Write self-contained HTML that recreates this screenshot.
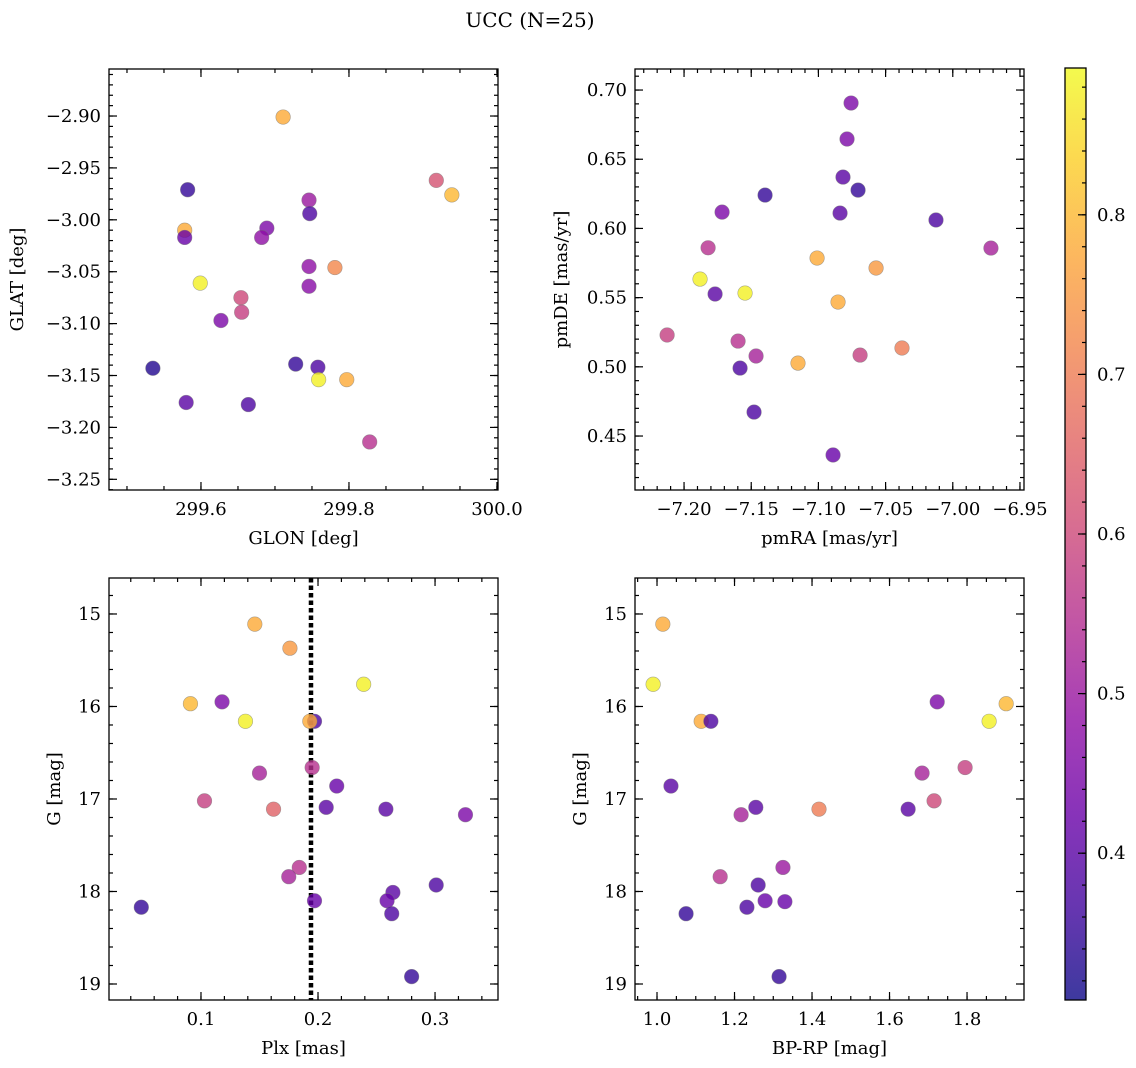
<!DOCTYPE html>
<html><head><meta charset="utf-8"><style>
body{margin:0;background:#fff;}
svg{display:block;font-family:"DejaVu Serif","Liberation Serif",serif;}
</style></head><body>
<svg id="fig" width="1136" height="1068" viewBox="0 0 1136 1068">
<text x="530" y="27" font-size="20" text-anchor="middle">UCC (N=25)</text>
</svg>
<script>
// Panel 1: GLON vs GLAT
const glon = [299.711,299.582,299.578,299.578,299.746,299.747,299.689,299.682,299.918,299.939,299.599,299.746,299.781,299.746,299.654,299.655,299.627,299.535,299.728,299.758,299.759,299.797,299.580,299.664,299.828];
const glat = [-2.901,-2.971,-3.010,-3.017,-2.981,-2.994,-3.008,-3.017,-2.962,-2.976,-3.061,-3.045,-3.046,-3.064,-3.075,-3.089,-3.097,-3.143,-3.139,-3.142,-3.154,-3.154,-3.176,-3.178,-3.214];
const c1 = [0.78,0.35,0.78,0.42,0.50,0.38,0.45,0.48,0.62,0.80,0.88,0.48,0.72,0.47,0.60,0.58,0.45,0.33,0.35,0.38,0.88,0.78,0.40,0.38,0.55];
// Panel 2: pmRA vs pmDE
const pmra = [-7.0757,-7.0787,-7.1397,-7.0817,-7.0705,-7.1717,-7.0839,-7.0125,-7.1821,-6.9716,-7.1010,-7.0571,-7.1881,-7.1546,-7.1769,-7.0854,-7.2126,-7.0378,-7.1598,-7.1464,-7.0690,-7.1152,-7.1583,-7.1479,-7.0891];
const pmde = [0.6906,0.6646,0.6241,0.6371,0.6277,0.6118,0.6111,0.6061,0.5860,0.5858,0.5786,0.5714,0.5634,0.5533,0.5526,0.5468,0.5230,0.5136,0.5186,0.5078,0.5085,0.5027,0.4991,0.4673,0.4363];
const c2 = [0.45,0.45,0.35,0.40,0.35,0.45,0.40,0.38,0.55,0.52,0.78,0.75,0.88,0.88,0.40,0.78,0.58,0.70,0.55,0.52,0.58,0.78,0.38,0.38,0.42];
// Panel 3: Plx vs G
const plx = [0.146,0.176,0.239,0.091,0.118,0.138,0.197,0.193,0.195,0.150,0.216,0.103,0.162,0.207,0.258,0.326,0.184,0.175,0.301,0.264,0.259,0.197,0.049,0.263,0.280];
const g3 = [15.11,15.37,15.76,15.97,15.95,16.16,16.16,16.16,16.66,16.72,16.86,17.02,17.11,17.09,17.11,17.17,17.74,17.84,17.93,18.01,18.10,18.10,18.17,18.24,18.92];
const c3 = [0.78,0.75,0.88,0.80,0.45,0.88,0.38,0.78,0.55,0.52,0.42,0.58,0.65,0.40,0.40,0.45,0.55,0.52,0.38,0.40,0.42,0.42,0.35,0.38,0.35];
const plxMedian = [0.194];
// Panel 4: BP-RP vs G
const bprp = [1.015,0.990,1.114,1.139,1.901,1.723,1.857,1.684,1.795,1.715,1.036,1.255,1.217,1.418,1.648,1.325,1.163,1.261,1.279,1.330,1.232,1.075,1.315];
const g4 = [15.11,15.76,16.16,16.16,15.97,15.95,16.16,16.72,16.66,17.02,16.86,17.09,17.17,17.11,17.11,17.74,17.84,17.93,18.10,18.11,18.17,18.24,18.92];
const c4 = [0.78,0.88,0.78,0.38,0.80,0.45,0.88,0.52,0.58,0.60,0.40,0.40,0.52,0.70,0.40,0.50,0.55,0.38,0.42,0.42,0.38,0.35,0.35];
// Colorbar
const cbTicks = [0.4,0.5,0.6,0.7,0.8];
const cMin = 0.308, cMax = 0.892;

const NS = "http://www.w3.org/2000/svg";
const svg = document.getElementById('fig');
function mk(tag, attrs, parent){const e=document.createElementNS(NS,tag);for(const k in attrs)e.setAttribute(k,attrs[k]);(parent||svg).appendChild(e);return e;}
const stops=[[0,"#0d0887"],[0.1,"#41049d"],[0.2,"#6a00a8"],[0.3,"#8f0da4"],[0.4,"#b12a90"],[0.5,"#cc4778"],[0.6,"#e16462"],[0.7,"#f2844b"],[0.8,"#fca636"],[0.9,"#fcce25"],[1,"#f0f921"]];
function hx(h){return [1,3,5].map(i=>parseInt(h.substr(i,2),16));}
function plasma(t){t=Math.max(0,Math.min(1,t));for(let i=0;i<stops.length-1;i++){if(t<=stops[i+1][0]){const f=(t-stops[i][0])/(stops[i+1][0]-stops[i][0]);const a=hx(stops[i][1]),b=hx(stops[i+1][1]);return "rgb("+a.map((v,j)=>Math.round(v+(b[j]-v)*f)).join(",")+")";}}return stops[10][1];}
function cnorm(c){return (c-cMin)/(cMax-cMin);}
function fmt(v,d){return (v<0?"\u2212":"")+Math.abs(v).toFixed(d);}

function panel(o){
  const {x0,x1,y0,y1,xmin,xmax,ymin,ymax,inv}=o;
  const sx=v=>x0+(v-xmin)/(xmax-xmin)*(x1-x0);
  const sy=inv? (v=>y0+(v-ymin)/(ymax-ymin)*(y1-y0)) : (v=>y1-(v-ymin)/(ymax-ymin)*(y1-y0));
  const g=mk('g',{});
  
  
  const eps=1e-9;
  function ticksX(step,len,major){
    for(let v=Math.ceil(xmin/step-eps)*step; v<=xmax+eps; v+=step){
      const X=sx(v);
      mk('line',{x1:X,x2:X,y1:y1,y2:y1-len,stroke:'#000','stroke-width':1.2},g);
      mk('line',{x1:X,x2:X,y1:y0,y2:y0+len,stroke:'#000','stroke-width':1.2},g);
      if(major){const t=mk('text',{x:X,y:y1+25,'font-size':18,'text-anchor':'middle'},g);t.textContent=fmt(v,o.xd);
        
        }
    }
  }
  function ticksY(step,len,major){
    for(let v=Math.ceil(ymin/step-eps)*step; v<=ymax+eps; v+=step){
      const Y=sy(v);
      mk('line',{x1:x0,x2:x0+len,y1:Y,y2:Y,stroke:'#000','stroke-width':1.2},g);
      mk('line',{x1:x1,x2:x1-len,y1:Y,y2:Y,stroke:'#000','stroke-width':1.2},g);
      if(major){const t=mk('text',{x:x0-8,y:Y+6,'font-size':18,'text-anchor':'end'},g);t.textContent=fmt(v,o.yd);
        
        }
    }
  }
  ticksX(o.xminor,4,false);ticksX(o.xmajor,8,true);
  ticksY(o.yminor,4,false);ticksY(o.ymajor,8,true);
  if(o.vline){
    const l=mk('line',{x1:sx(o.vline[0]),x2:sx(o.vline[0]),y1:y0,y2:y1,stroke:'#000','stroke-width':4.5,'stroke-dasharray':'4.5 3'},g);
    
    
  }
  o.xs.forEach((xv,i)=>{
    const p=mk('circle',{cx:sx(xv),cy:sy(o.ys[i]),r:7.3,fill:plasma(cnorm(o.cs[i])),'fill-opacity':0.8,stroke:'#777','stroke-opacity':0.6,'stroke-width':0.6},g);
    
    
  });
  const fr=mk('rect',{x:x0,y:y0,width:x1-x0,height:y1-y0,fill:'none',stroke:'#000','stroke-width':1.3},g);
  
  
  const xl=mk('text',{x:(x0+x1)/2,y:y1+54,'font-size':18,'text-anchor':'middle'},g);xl.textContent=o.xlabel;
  
  
  const yx=o.ylx, yc=(y0+y1)/2;
  const yl=mk('text',{x:yx,y:yc,'font-size':18,'text-anchor':'middle',transform:`rotate(-90 ${yx} ${yc})`},g);yl.textContent=o.ylabel;
  
  
}

panel({name:'glon-glat-panel',x0:109,x1:498,y0:69,y1:490,xmin:299.4757,xmax:300.0014,ymin:-3.2603,ymax:-2.8547,xmajor:0.2,xminor:0.05,ymajor:0.05,yminor:0.01,xd:1,yd:2,xs:glon,ys:glat,cs:c1,xlabel:'GLON [deg]',ylabel:'GLAT [deg]',ylx:23});
panel({name:'pm-panel',x0:635,x1:1024,y0:69,y1:490,xmin:-7.2365,xmax:-6.947,ymin:0.4110,ymax:0.7152,xmajor:0.05,xminor:0.01,ymajor:0.05,yminor:0.01,xd:2,yd:2,xs:pmra,ys:pmde,cs:c2,xlabel:'pmRA [mas/yr]',ylabel:'pmDE [mas/yr]',ylx:567});
panel({name:'plx-g-panel',x0:109,x1:498,y0:578,y1:1000,xmin:0.0214,xmax:0.3538,ymin:14.611,ymax:19.173,inv:true,xmajor:0.1,xminor:0.02,ymajor:1,yminor:0.2,xd:1,yd:0,xs:plx,ys:g3,cs:c3,xlabel:'Plx [mas]',ylabel:'G [mag]',ylx:60,vline:plxMedian});
panel({name:'cmd-panel',x0:635,x1:1024,y0:578,y1:1000,xmin:0.9432,xmax:1.947,ymin:14.611,ymax:19.173,inv:true,xmajor:0.2,xminor:0.05,ymajor:1,yminor:0.2,xd:1,yd:0,xs:bprp,ys:g4,cs:c4,xlabel:'BP-RP [mag]',ylabel:'G [mag]',ylx:586});

// colorbar
const defs=mk('defs',{});
const lg=mk('linearGradient',{id:'cbg',x1:0,y1:1,x2:0,y2:0},defs);
for(let i=0;i<=20;i++){const c=cMin+(cMax-cMin)*i/20;mk('stop',{offset:(i/20),'stop-color':plasma(cnorm(c)),'stop-opacity':0.8},lg);}
const cb=mk('g',{});


const cx0=1065,cx1=1086,cy0=68,cy1=1000;
const cy=v=>cy1-(v-cMin)/(cMax-cMin)*(cy1-cy0);
mk('rect',{x:cx0,y:cy0,width:cx1-cx0,height:cy1-cy0,fill:'url(#cbg)'},cb);
for(let v=0.32;v<=cMax;v+=0.02){mk('line',{x1:cx1,x2:cx1-4,y1:cy(v),y2:cy(v),stroke:'#000','stroke-width':1.2},cb);}
cbTicks.forEach(v=>{
  mk('line',{x1:cx1,x2:cx1-8,y1:cy(v),y2:cy(v),stroke:'#000','stroke-width':1.2},cb);
  const t=mk('text',{x:1097,y:cy(v)+6,'font-size':18},cb);t.textContent=v.toFixed(1);
  
  
});
mk('rect',{x:cx0,y:cy0,width:cx1-cx0,height:cy1-cy0,fill:'none',stroke:'#000','stroke-width':1.3},cb);
</script>
</body></html>
